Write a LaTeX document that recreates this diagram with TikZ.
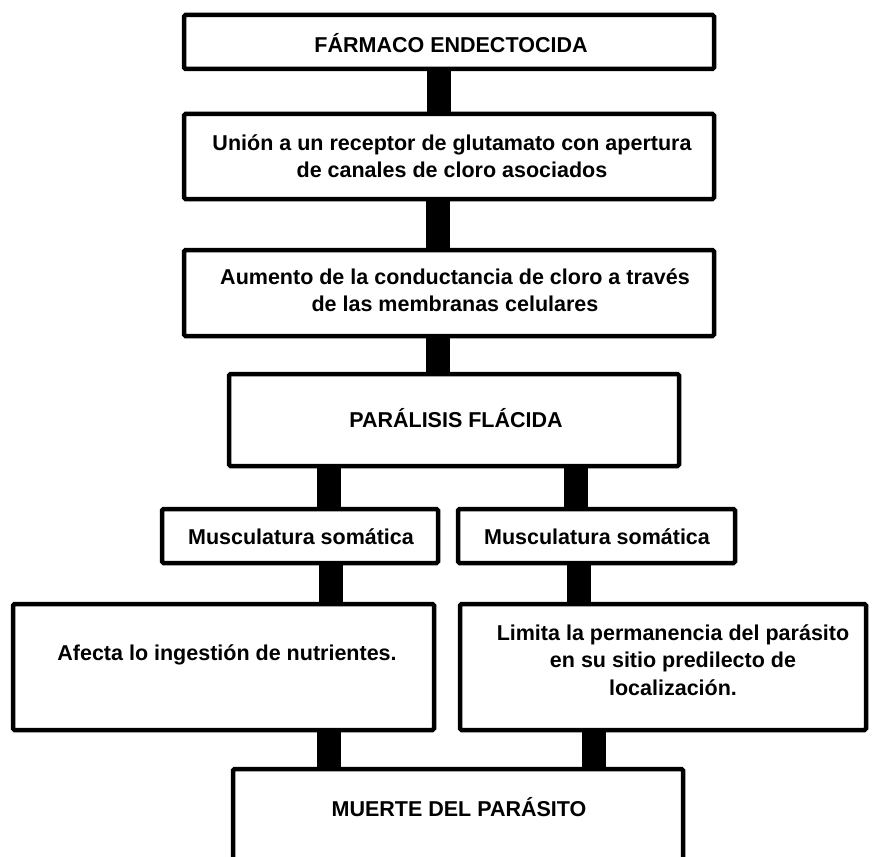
\documentclass[tikz,border=0pt]{standalone}
\usepackage{fontspec}
\setmainfont{Liberation Sans}
\begin{document}
\begin{tikzpicture}[x=1pt,y=-1pt,
  box/.style={draw=black,line width=4.5pt,rectangle,inner sep=0pt,outer sep=0pt,rounded corners=1.5pt,fill=white},
  txt/.style={font=\fontsize{21.5}{27.5}\selectfont\bfseries,align=center,inner sep=0pt},
  bar/.style={line width=24pt,line cap=butt,draw=black}]
\clip (0,0) rectangle (872,856);
\fill[white] (0,0) rectangle (872,856);
% boxes
\node[box,minimum width=530pt,minimum height=54pt] (b1) at (449,42) {};
\node[box,minimum width=530pt,minimum height=85pt] (b2) at (449,156.5) {};
\node[box,minimum width=530pt,minimum height=86pt] (b3) at (449,293) {};
\node[box,minimum width=450pt,minimum height=92pt] (b4) at (454,420) {};
\node[box,minimum width=276pt,minimum height=54pt] (b5a) at (300,536) {};
\node[box,minimum width=277pt,minimum height=54pt] (b5b) at (596.5,536) {};
\node[box,minimum width=421pt,minimum height=126pt] (b6a) at (223.5,667) {};
\node[box,minimum width=406pt,minimum height=126pt] (b6b) at (663,667) {};
\node[box,minimum width=450pt,minimum height=111pt] (b7) at (458,824.5) {};
% bar columns
\coordinate (c1) at (438.5,0);
\coordinate (c2) at (437.5,0);
\coordinate (c4l) at (328.5,0);
\coordinate (c4r) at (576,0);
\coordinate (c5l) at (331,0);
\coordinate (c5r) at (578.5,0);
\coordinate (c6l) at (328.5,0);
\coordinate (c6r) at (594,0);
\draw[bar] (b1.south -| c1) -- (b2.north -| c1);
\draw[bar] (b2.south -| c2) -- (b3.north -| c2);
\draw[bar] (b3.south -| c2) -- (b4.north -| c2);
\draw[bar] (b4.south -| c4l) -- (b5a.north -| c4l);
\draw[bar] (b4.south -| c4r) -- (b5b.north -| c4r);
\draw[bar] (b5a.south -| c5l) -- (b6a.north -| c5l);
\draw[bar] (b5b.south -| c5r) -- (b6b.north -| c5r);
\draw[bar] (b6a.south -| c6l) -- (b7.north -| c6l);
\draw[bar] (b6b.south -| c6r) -- (b7.north -| c6r);
% texts
\node[txt] (t1) at (451,43) {FÁRMACO ENDECTOCIDA};
\node[txt] (t2) at (452,156) {Unión a un receptor de glutamato con apertura\\de canales de cloro asociados};
\node[txt] (t3) at (455,290) {Aumento de la conductancia de cloro a través\\de las membranas celulares};
\node[txt] (t4) at (456,418) {PARÁLISIS FLÁCIDA};
\node[txt] (t5a) at (301,537) {Musculatura somática};
\node[txt] (t5b) at (597,537) {Musculatura somática};
\node[txt] (t6a) at (227,655) {Afecta lo ingestión de nutrientes.};
\node[txt] (t6b) at (673,660) {Limita la permanencia del parásito\\en su sitio predilecto de\\localización.};
\node[txt] (t7) at (459,807) {MUERTE DEL PARÁSITO};
\end{tikzpicture}
\end{document}
